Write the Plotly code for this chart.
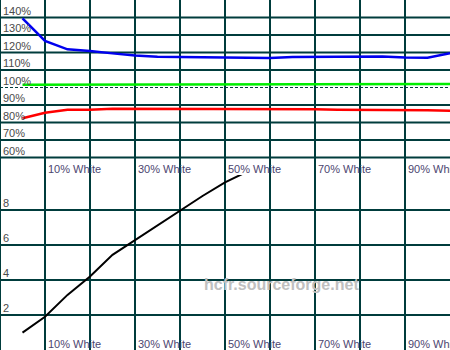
import plotly.graph_objects as go

# ---------------- data ----------------
levels = [5, 10, 15, 20, 25, 30, 35, 40, 45, 50, 55, 60, 65, 70, 75, 80, 85, 90, 95, 100]
blue_vals = [139.5, 126.6, 121.8, 120.9, 119.5, 118.3, 117.6, 117.4, 117.4, 117.3,
             116.9, 116.9, 117.4, 117.4, 117.4, 117.7, 117.7, 117.1, 117.0, 119.6]
green_vals = [101.6, 101.6, 101.6, 101.7, 102.0, 102.0, 102.0, 102.0, 102.0, 102.0,
              102.0, 102.0, 102.0, 102.0, 102.0, 102.0, 102.0, 102.0, 102.0, 102.0]
red_vals = [82.4, 85.6, 87.3, 87.3, 87.9, 87.9, 87.9, 87.9, 87.9, 87.9,
            87.9, 87.9, 87.9, 87.6, 87.3, 87.3, 87.3, 87.3, 87.0, 86.7]

gamma_levels = [5, 10, 15, 20, 25, 30, 35, 40, 45, 50, 55]
gamma_vals = [0.99, 1.9, 3.15, 4.2, 5.44, 6.29, 7.1, 8.0, 8.8, 9.58, 10.2]

x_grid = [0, 10, 20, 30, 40, 50, 60, 70, 80, 90]
x_tick_vals = [10, 30, 50, 70, 90]
x_tick_labels = ["10% White", "30% White", "50% White", "70% White", "90% White"]

top_grid = [60, 70, 80, 90, 110, 120, 130, 140]
top_ref = 100
top_tick_vals = [60, 70, 80, 90, 100, 110, 120, 130, 140]
top_tick_labels = ["60%", "70%", "80%", "90%", "100%", "110%", "120%", "130%", "140%"]

bot_grid = [2, 4, 6, 8]
bot_tick_labels = ["2", "4", "6", "8"]

watermark = "hcfr.sourceforge.net"

# ---------------- style ----------------
GRID = "#003c3c"
FONT = "Liberation Sans, Arial, sans-serif"
YLAB = "#4a4a4a"
XLAB = "#4c4670"

fig = go.Figure()
fig.add_trace(go.Scatter(x=levels, y=green_vals, mode="lines",
                         line=dict(color="#00ee00", width=2.5), xaxis="x", yaxis="y"))
fig.add_trace(go.Scatter(x=levels, y=red_vals, mode="lines",
                         line=dict(color="#ff0000", width=2.5), xaxis="x", yaxis="y"))
fig.add_trace(go.Scatter(x=levels, y=blue_vals, mode="lines",
                         line=dict(color="#0000ee", width=2.5), xaxis="x", yaxis="y"))
fig.add_trace(go.Scatter(x=gamma_levels, y=gamma_vals, mode="lines",
                         line=dict(color="#000000", width=2), xaxis="x2", yaxis="y2"))

shapes = []
for xv in x_grid:
    shapes.append(dict(type="line", xref="x", yref="paper", x0=xv, x1=xv, y0=0, y1=1,
                       line=dict(color=GRID, width=2), layer="below"))
for yv in top_grid:
    shapes.append(dict(type="line", xref="paper", yref="y", x0=0, x1=1, y0=yv, y1=yv,
                       line=dict(color=GRID, width=2), layer="below"))
shapes.append(dict(type="line", xref="paper", yref="y", x0=0, x1=1, y0=top_ref, y1=top_ref,
                   line=dict(color=GRID, width=1, dash="3px,2px"), layer="below"))
for yv in bot_grid:
    shapes.append(dict(type="line", xref="paper", yref="y2", x0=0, x1=1, y0=yv, y1=yv,
                       line=dict(color=GRID, width=2), layer="below"))

ann = []
for v, t in zip(top_tick_vals, top_tick_labels):
    ann.append(dict(x=0, xref="paper", xanchor="left", xshift=1, y=v, yref="y",
                    yanchor="middle", yshift=7, text=t, showarrow=False,
                    font=dict(family=FONT, size=11, color=YLAB)))
for v, t in zip(bot_grid, bot_tick_labels):
    ann.append(dict(x=0, xref="paper", xanchor="left", xshift=1, y=v, yref="y2",
                    yanchor="middle", yshift=7, text=t, showarrow=False,
                    font=dict(family=FONT, size=11, color=YLAB)))
for v, t in zip(x_tick_vals, x_tick_labels):
    ann.append(dict(x=v, xref="x", xanchor="left", xshift=1, y=50, yref="y",
                    yanchor="middle", yshift=6, text=t, showarrow=False,
                    font=dict(family=FONT, size=11, color=XLAB)))
    ann.append(dict(x=v, xref="x2", xanchor="left", xshift=1, y=0, yref="y2",
                    yanchor="middle", yshift=6, text=t, showarrow=False,
                    font=dict(family=FONT, size=11, color=XLAB)))
ann.append(dict(x=62.5, xref="x2", xanchor="center", y=3.75, yref="y2", yanchor="middle",
                text="<b>" + watermark + "</b>", showarrow=False,
                font=dict(family=FONT, size=16, color="#c0c0c0")))

fig.update_layout(
    width=450, height=350, margin=dict(l=0, r=0, t=0, b=0),
    paper_bgcolor="white", plot_bgcolor="white", showlegend=False,
    xaxis=dict(domain=[0, 1], range=[0, 100], visible=False, fixedrange=True),
    xaxis2=dict(domain=[0, 1], range=[0, 100], visible=False, anchor="y2", fixedrange=True),
    yaxis=dict(domain=[0.5, 1], range=[50, 150], visible=False, fixedrange=True),
    yaxis2=dict(domain=[0, 0.5], range=[0, 10], visible=False, anchor="x2", fixedrange=True),
    shapes=shapes, annotations=ann,
)

fig.write_html("out.html", config={"displayModeBar": False})
